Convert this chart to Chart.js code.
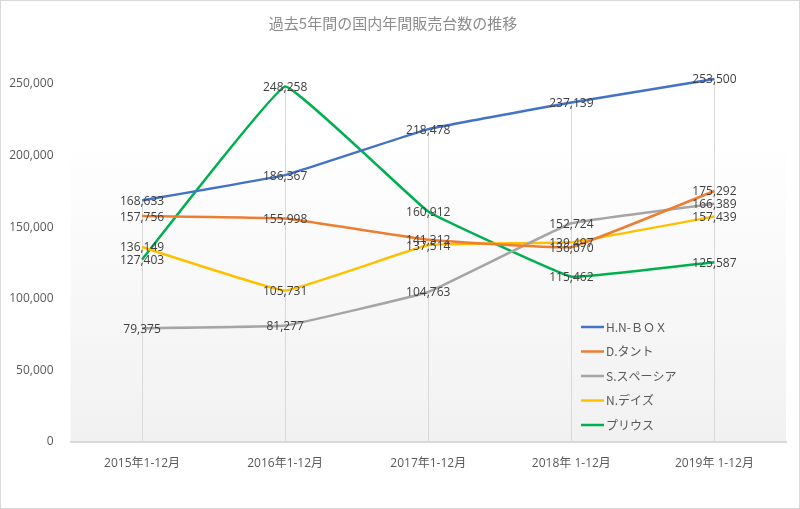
<!DOCTYPE html>
<html>
<head>
<meta charset="utf-8">
<script src="https://cdn.jsdelivr.net/npm/chart.js@4"></script>
<style>
  html, body { margin: 0; padding: 0; background: #fff; }
  #wrap { position: relative; width: 800px; height: 509px; }
  #frame { position: absolute; left: 0; top: 0; width: 800px; height: 509px; box-sizing: border-box; border: 1px solid #d9d9d9; pointer-events: none; }
</style>
</head>
<body>
<div id="wrap">
  <canvas id="salesChart" width="800" height="509"></canvas>
  <div id="frame"></div>
</div>
<script>
// ── DATA ──
const categories = ['2015年1-12月', '2016年1-12月', '2017年1-12月', '2018年 1-12月', '2019年 1-12月'];
const seriesNames = ['H.N-ＢＯＸ', 'D.タント', 'S.スペーシア', 'N.デイズ', 'プリウス'];
const nbox    = [168633, 186367, 218478, 237139, 253500];
const tanto   = [157756, 155998, 141312, 136070, 175292];
const spacia  = [79375, 81277, 104763, 152724, 166389];
const days    = [136149, 105731, 137514, 139497, 157439];
const prius   = [127403, 248258, 160912, 115462, 125587];
const yTicks  = [0, 50000, 100000, 150000, 200000, 250000];

const colors = ['#4472c4', '#ed7d31', '#a5a5a5', '#ffc000', '#00b050'];
const fmt = v => v.toLocaleString('en-US');

// plot background: white fading to light gray
const plotBg = {
  id: 'plotBg',
  beforeDraw(chart) {
    const { ctx, chartArea: a } = chart;
    const g = ctx.createLinearGradient(0, a.top, 0, a.bottom);
    g.addColorStop(0, '#ffffff');
    g.addColorStop(0.15, '#ffffff');
    g.addColorStop(1, '#f1f1f1');
    ctx.save();
    ctx.fillStyle = g;
    ctx.fillRect(a.left, a.top, a.right - a.left, a.bottom - a.top);
    ctx.restore();
  },
};

// drop lines from the highest value at each category down to the axis
const dropLines = {
  id: 'dropLines',
  beforeDatasetsDraw(chart) {
    const { ctx, scales: { x, y } } = chart;
    ctx.save();
    ctx.strokeStyle = '#d9d9d9';
    ctx.lineWidth = 1;
    categories.forEach((c, i) => {
      const top = Math.max(...chart.data.datasets.map(d => d.data[i]));
      const px = Math.round(x.getPixelForValue(i)) + 0.5;
      ctx.beginPath();
      ctx.moveTo(px, y.getPixelForValue(top));
      ctx.lineTo(px, y.getPixelForValue(0));
      ctx.stroke();
    });
    ctx.restore();
  },
};

// value labels centred on each point
const valueLabels = {
  id: 'valueLabels',
  afterDatasetsDraw(chart) {
    const { ctx } = chart;
    ctx.save();
    ctx.font = '12px "Open Sans", "Noto Sans", sans-serif';
    ctx.fillStyle = '#404040';
    ctx.textAlign = 'center';
    ctx.textBaseline = 'middle';
    chart.data.datasets.forEach((ds, di) => {
      chart.getDatasetMeta(di).data.forEach((pt, i) => {
        ctx.fillText(fmt(ds.data[i]), pt.x, pt.y + 1);
      });
    });
    ctx.restore();
  },
};

// legend inside plot, lower right
const innerLegend = {
  id: 'innerLegend',
  afterDraw(chart) {
    const { ctx, chartArea: a } = chart;
    const x0 = a.right - 205;
    const y0 = a.bottom - 115;
    ctx.save();
    ctx.font = '12px "Noto Sans CJK JP", "Noto Sans", sans-serif';
    ctx.textBaseline = 'middle';
    ctx.textAlign = 'left';
    chart.data.datasets.forEach((ds, i) => {
      const yy = y0 + i * 24.5;
      ctx.strokeStyle = ds.borderColor;
      ctx.lineWidth = 2.5;
      ctx.beginPath();
      ctx.moveTo(x0, yy);
      ctx.lineTo(x0 + 23, yy);
      ctx.stroke();
      ctx.fillStyle = '#595959';
      ctx.fillText(ds.label, x0 + 25, yy);
    });
    ctx.restore();
  },
};

const seriesValues = [nbox, tanto, spacia, days, prius];

new Chart(document.getElementById('salesChart').getContext('2d'), {
  type: 'line',
  data: {
    labels: categories,
    datasets: seriesValues.map((vals, i) => ({
      label: seriesNames[i],
      data: vals,
      borderColor: colors[i],
      backgroundColor: colors[i],
      borderWidth: 2.5,
      pointRadius: 0,
      pointHoverRadius: 0,
      tension: 0.07,
      clip: false,
    })),
  },
  options: {
    responsive: false,
    animation: false,
    events: [],
    layout: { padding: { left: 0, right: 14, top: 0, bottom: 0 } },
    plugins: {
      legend: { display: false },
      tooltip: { enabled: false },
      title: {
        display: true,
        text: '過去5年間の国内年間販売台数の推移',
        color: '#8c8c8c',
        font: { family: '"Noto Sans CJK JP", sans-serif', size: 15, weight: 'normal' },
        padding: { top: 14, bottom: 52 },
      },
    },
    scales: {
      x: {
        offset: true,
        grid: { display: false },
        border: { display: true, color: '#d9d9d9', width: 2 },
        ticks: {
          color: '#595959',
          padding: 6,
          maxRotation: 0,
          font: { family: '"Open Sans", "Noto Sans CJK JP", sans-serif', size: 12 },
        },
        afterFit: s => { s.height = 67; },
      },
      y: {
        min: 0,
        max: 250000,
        afterBuildTicks: s => { s.ticks = yTicks.map(v => ({ value: v })); },
        grid: { display: false },
        border: { display: false },
        ticks: {
          color: '#595959',
          padding: 9,
          callback: v => fmt(v),
          font: { family: '"Open Sans", sans-serif', size: 12 },
        },
        afterFit: s => { s.width = 70.5; },
      },
    },
  },
  plugins: [plotBg, dropLines, valueLabels, innerLegend],
});
</script>
</body>
</html>
